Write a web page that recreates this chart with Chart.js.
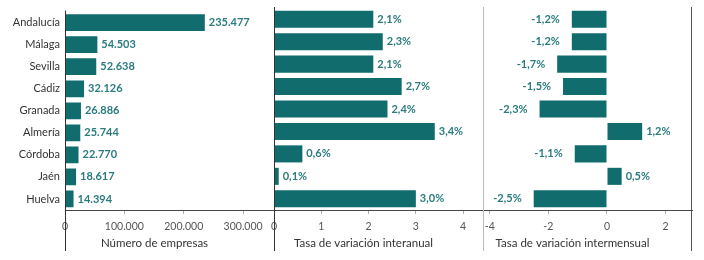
<!DOCTYPE html>
<html>
<head>
<meta charset="utf-8">
<script src="https://cdn.jsdelivr.net/npm/chart.js@4/dist/chart.umd.min.js"></script>
<style>
  body { margin: 0; background: #fff; }
  #wrap { position: relative; width: 704px; height: 260px; }
  .box { position: absolute; top: 0; height: 260px; }
</style>
</head>
<body>
<div id="wrap">
  <div class="box" style="left:0;width:284px"><canvas id="c1"></canvas></div>
  <div class="box" style="left:264px;width:229px"><canvas id="c2"></canvas></div>
  <div class="box" style="left:473px;width:231px"><canvas id="c3"></canvas></div>
</div>
<script>
var provincias = ['Andalucía', 'Málaga', 'Sevilla', 'Cádiz', 'Granada', 'Almería', 'Córdoba', 'Jaén', 'Huelva'];
var empresas = [235477, 54503, 52638, 32126, 26886, 25744, 22770, 18617, 14394];
var interanual = [2.1, 2.3, 2.1, 2.7, 2.4, 3.4, 0.6, 0.1, 3.0];
var intermensual = [-1.2, -1.2, -1.7, -1.5, -2.3, 1.2, -1.1, 0.5, -2.5];
var ticks1 = [0, 100000, 200000, 300000];
var ticks2 = [0, 1, 2, 3, 4];
var ticks3 = [-4, -2, 0, 2];

var TEAL = '#116d6d';
var LABEL = '#2a7b7d';
var FONT = 'Lato, "Open Sans", sans-serif';

function miles(v) {
  return String(Math.round(v)).replace(/\B(?=(\d{3})+(?!\d))/g, '.');
}
function pct(v) {
  return v.toFixed(1).replace('.', ',') + '%';
}

// value next to each bar end
var valueLabels = {
  id: 'valueLabels',
  afterDatasetsDraw: function(chart, args, opts) {
    var ctx = chart.ctx;
    var meta = chart.getDatasetMeta(0);
    var data = chart.data.datasets[0].data;
    ctx.save();
    ctx.font = 'bold 11px ' + FONT;
    ctx.fillStyle = LABEL;
    ctx.textBaseline = 'middle';
    meta.data.forEach(function(bar, i) {
      var v = data[i];
      var txt = opts.fmt(v);
      if (v < 0) {
        ctx.textAlign = 'right';
        ctx.fillText(txt, bar.x - 12, bar.y);
      } else {
        ctx.textAlign = 'left';
        ctx.fillText(txt, bar.x + 4, bar.y);
      }
    });
    ctx.restore();
  }
};

// vertical frame lines that run below the axis, plus the axis title a bit left of centre
var frameLines = {
  id: 'frameLines',
  afterDraw: function(chart, args, opts) {
    var ctx = chart.ctx;
    var a = chart.chartArea;
    ctx.save();
    ctx.lineWidth = 1;
    if (opts.left) {
      ctx.strokeStyle = opts.left;
      ctx.beginPath();
      ctx.moveTo(Math.round(a.left) + 0.5, a.top - 1);
      ctx.lineTo(Math.round(a.left) + 0.5, 251);
      ctx.stroke();
    }
    if (opts.right) {
      ctx.strokeStyle = opts.right;
      ctx.beginPath();
      ctx.moveTo(Math.round(a.right) - 0.5, a.top - 1);
      ctx.lineTo(Math.round(a.right) - 0.5, 251);
      ctx.stroke();
    }
    if (opts.title) {
      ctx.font = '11.5px ' + FONT;
      ctx.fillStyle = '#333';
      ctx.textAlign = 'center';
      ctx.textBaseline = 'middle';
      ctx.fillText(opts.title, (a.left + a.right) / 2 - 15, a.bottom + 33);
    }
    ctx.restore();
  }
};

function makeChart(id, values, xmin, xmax, tickList, tickFmt, valFmt, showCats, pad, yWidth, lines) {
  return new Chart(document.getElementById(id), {
    type: 'bar',
    data: {
      labels: provincias,
      datasets: [{
        data: values,
        backgroundColor: TEAL,
        borderWidth: 0,
        barPercentage: 0.76,
        categoryPercentage: 1
      }]
    },
    options: {
      indexAxis: 'y',
      responsive: true,
      maintainAspectRatio: false,
      animation: false,
      layout: { padding: pad },
      plugins: {
        legend: { display: false },
        tooltip: { enabled: false },
        valueLabels: { fmt: valFmt },
        frameLines: lines
      },
      scales: {
        x: {
          min: xmin,
          max: xmax,
          afterBuildTicks: function(scale) {
            scale.ticks = tickList.map(function(v) { return { value: v }; });
          },
          afterFit: function(scale) { scale.height = 50; },
          grid: { drawOnChartArea: false, drawTicks: true, tickLength: 4, color: '#aaa' },
          border: { display: true, color: '#444', width: 1 },
          ticks: {
            padding: 6,
            maxRotation: 0,
            color: '#555',
            font: { family: FONT, size: 10.5 },
            callback: function(v) { return tickFmt(v); }
          }
        },
        y: {
          afterFit: function(scale) { scale.width = yWidth; },
          grid: { display: false, drawTicks: false },
          border: { display: false },
          ticks: {
            display: showCats,
            padding: 5,
            color: '#333',
            font: { family: FONT, size: 11 }
          }
        }
      }
    },
    plugins: [valueLabels, frameLines]
  });
}

makeChart('c1', empresas, 0, 352000, ticks1, miles, miles, true,
  { top: 8, left: 0, right: 10, bottom: 0 }, 65, { left: '#333', title: 'Número de empresas' });
makeChart('c2', interanual, 0, 4.42, ticks2, function(v) { return String(v); }, pct, false,
  { top: 8, left: 10, right: 10, bottom: 0 }, 0, { left: '#333', title: 'Tasa de variación interanual' });
makeChart('c3', intermensual, -4.23, 2.9, ticks3, function(v) { return String(v); }, pct, false,
  { top: 8, left: 10, right: 12, bottom: 0 }, 0, { left: '#bbb', right: '#555', title: 'Tasa de variación intermensual' });
</script>
</body>
</html>
